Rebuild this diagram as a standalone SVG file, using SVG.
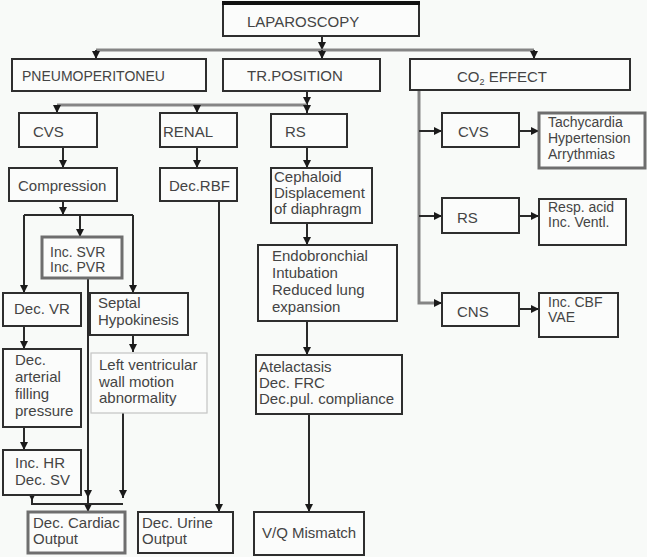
<svg xmlns="http://www.w3.org/2000/svg" width="647" height="557" viewBox="0 0 647 557">
<defs>
<marker id="ah" viewBox="0 0 8 8" refX="8" refY="4" markerWidth="8" markerHeight="8" markerUnits="userSpaceOnUse" orient="auto">
<path d="M0,0 L8,4 L0,8 z" fill="#1a1a1a"/>
</marker>
<style>
.bx{fill:#fbfcfb;stroke:#2e2e2e;stroke-width:2}
.bg{fill:#fbfcfb;stroke:#6e6e6e;stroke-width:3}
.bl{fill:#fbfcfb;stroke:#c4c4c4;stroke-width:1.2}
.t{font-family:"Liberation Sans",Arial,sans-serif;font-size:15px;fill:#444}
.s{font-size:14px}
.k{fill:none;stroke:#2a2a2a;stroke-width:2}
.g{fill:none;stroke:#858585;stroke-width:3}
.a{marker-end:url(#ah)}
</style>
</defs>
<rect x="0" y="0" width="647" height="557" fill="#f8faf8"/>

<g id="connectors">
<path class="k a" d="M322,36 V50"/>
<path class="g" d="M96,50 H534"/>
<path class="k a" d="M96,50 V59"/>
<path class="k a" d="M322,50 V59"/>
<path class="k a" d="M534,50 V59"/>
<path class="k a" d="M307,91 V105"/>
<path class="g" d="M57,105 H307"/>
<path class="k a" d="M57,105 V113"/>
<path class="k a" d="M197,105 V113"/>
<path class="k a" d="M307,105 V113"/>
<path class="k a" d="M63,147 V168"/>
<path class="k a" d="M197,147 V168"/>
<path class="k a" d="M307,147 V168"/>
<path class="k a" d="M307,223 V245"/>
<path class="k a" d="M307,321 V355"/>
<path class="k a" d="M309,414 V512"/>
<path class="k a" d="M219,201 V512"/>
<path class="k a" d="M63,201 V215"/>
<path class="k" d="M24,215 H133"/>
<path class="k a" d="M80,215 V237"/>
<path class="k a" d="M24,215 V293"/>
<path class="k a" d="M133,215 V293"/>
<path class="k a" d="M88,278 V498"/>
<path class="k a" d="M88,498 V512"/>
<path class="k a" d="M24,326 V349"/>
<path class="k a" d="M24,427 V450"/>
<path class="k a" d="M32,494 V501"/>
<path class="k" d="M32,501 V504 H123"/>
<path class="k a" d="M133,335 V352"/>
<path class="k a" d="M123,413 V498"/>
<path class="g" d="M419,90 V303 H436"/>
<path class="k a" d="M434,303 H442"/>
<path class="k a" d="M419,131 H442"/>
<path class="k a" d="M419,216 H442"/>
<path class="k a" d="M519,131 H539"/>
<path class="k a" d="M519,216 H539"/>
<path class="k a" d="M519,309 H539"/>
</g>

<g id="laparoscopy"><rect class="bx" x="223" y="4" width="196" height="32"/><path d="M222,3 H420" stroke="#111" stroke-width="4"/><text class="t" x="247" y="27">LAPAROSCOPY</text></g>
<g id="pneumo"><rect class="bx" x="12" y="59" width="194" height="32"/><text class="t s" x="22" y="81">PNEUMOPERITONEU</text></g>
<g id="trposition"><rect class="bx" x="223" y="59" width="157" height="32"/><text class="t" x="247" y="81">TR.POSITION</text></g>
<g id="co2"><rect class="bx" x="410" y="59" width="220" height="31"/><text class="t" x="457" y="82">CO<tspan font-size="9" dy="3">2</tspan><tspan dy="-3"> EFFECT</tspan></text></g>

<g id="cvs"><rect class="bx" x="19" y="113" width="78" height="34"/><text class="t" x="33" y="137">CVS</text></g>
<g id="renal"><rect class="bx" x="160" y="113" width="77" height="34"/><text class="t" x="163" y="137">RENAL</text></g>
<g id="rs"><rect class="bx" x="271" y="114" width="76" height="33"/><text class="t" x="285" y="137">RS</text></g>

<g id="compression"><rect class="bx" x="9" y="168" width="108" height="33"/><text class="t" x="18" y="191">Compression</text></g>
<g id="decrbf"><rect class="bx" x="160" y="168" width="77" height="33"/><text class="t" x="169" y="191">Dec.RBF</text></g>
<g id="cephaloid"><rect class="bx" x="271" y="168" width="101" height="55"/><text class="t" x="274" y="182">Cephaloid</text><text class="t" x="274" y="198">Displacement</text><text class="t" x="274" y="214">of diaphragm</text></g>
<g id="endobronchial"><rect class="bx" x="258" y="245" width="139" height="76"/><text class="t" x="272" y="261">Endobronchial</text><text class="t" x="272" y="278">Intubation</text><text class="t" x="272" y="295">Reduced lung</text><text class="t" x="272" y="312">expansion</text></g>
<g id="atelactasis"><rect class="bx" x="256" y="355" width="146" height="59"/><text class="t" x="259" y="372">Atelactasis</text><text class="t" x="259" y="388">Dec. FRC</text><text class="t" x="259" y="404">Dec.pul. compliance</text></g>
<g id="vq"><rect class="bx" x="254" y="512" width="110" height="43"/><text class="t" x="262" y="538">V/Q Mismatch</text></g>

<g id="incsvr"><rect class="bg" x="42" y="237" width="80" height="41"/><text class="t s" x="50" y="257">Inc. SVR</text><text class="t s" x="50" y="272">Inc. PVR</text></g>
<g id="decvr"><rect class="bx" x="3" y="293" width="78" height="33"/><text class="t" x="14" y="314">Dec. VR</text></g>
<g id="decarterial"><rect class="bx" x="3" y="349" width="78" height="78"/><text class="t" x="15" y="365">Dec.</text><text class="t" x="15" y="382">arterial</text><text class="t" x="15" y="399">filling</text><text class="t" x="15" y="416">pressure</text></g>
<g id="inchr"><rect class="bx" x="3" y="450" width="78" height="45"/><text class="t" x="15" y="468">Inc. HR</text><text class="t" x="15" y="485">Dec. SV</text></g>
<g id="septal"><rect class="bx" x="90" y="293" width="98" height="42"/><text class="t" x="98" y="308">Septal</text><text class="t" x="98" y="325">Hypokinesis</text></g>
<g id="lvwall"><rect class="bl" x="91" y="353" width="116" height="60"/><text class="t" x="99" y="370">Left ventricular</text><text class="t" x="99" y="387">wall motion</text><text class="t" x="99" y="403">abnormality</text></g>
<g id="deccardiac"><rect class="bg" x="28" y="512" width="97" height="41"/><text class="t" x="33" y="528">Dec. Cardiac</text><text class="t" x="33" y="544">Output</text></g>
<g id="decurine"><rect class="bx" x="138" y="512" width="95" height="41"/><text class="t" x="142" y="528">Dec. Urine</text><text class="t" x="142" y="544">Output</text></g>

<g id="cvs2"><rect class="bx" x="442" y="113" width="77" height="34"/><text class="t" x="458" y="137">CVS</text></g>
<g id="tachy"><rect class="bg" x="539" y="113" width="106" height="55"/><text class="t s" x="548" y="127">Tachycardia</text><text class="t s" x="548" y="143">Hypertension</text><text class="t s" x="548" y="159">Arrythmias</text></g>
<g id="rs2"><rect class="bx" x="442" y="198" width="77" height="35"/><text class="t" x="457" y="223">RS</text></g>
<g id="resp"><rect class="bx" x="539" y="199" width="87" height="46"/><text class="t s" x="548" y="212">Resp. acid</text><text class="t s" x="548" y="227">Inc. Ventl.</text></g>
<g id="cns"><rect class="bx" x="442" y="293" width="77" height="33"/><text class="t" x="457" y="317">CNS</text></g>
<g id="inccbf"><rect class="bx" x="539" y="293" width="79" height="44"/><text class="t s" x="548" y="307">Inc. CBF</text><text class="t s" x="548" y="322">VAE</text></g>
</svg>
